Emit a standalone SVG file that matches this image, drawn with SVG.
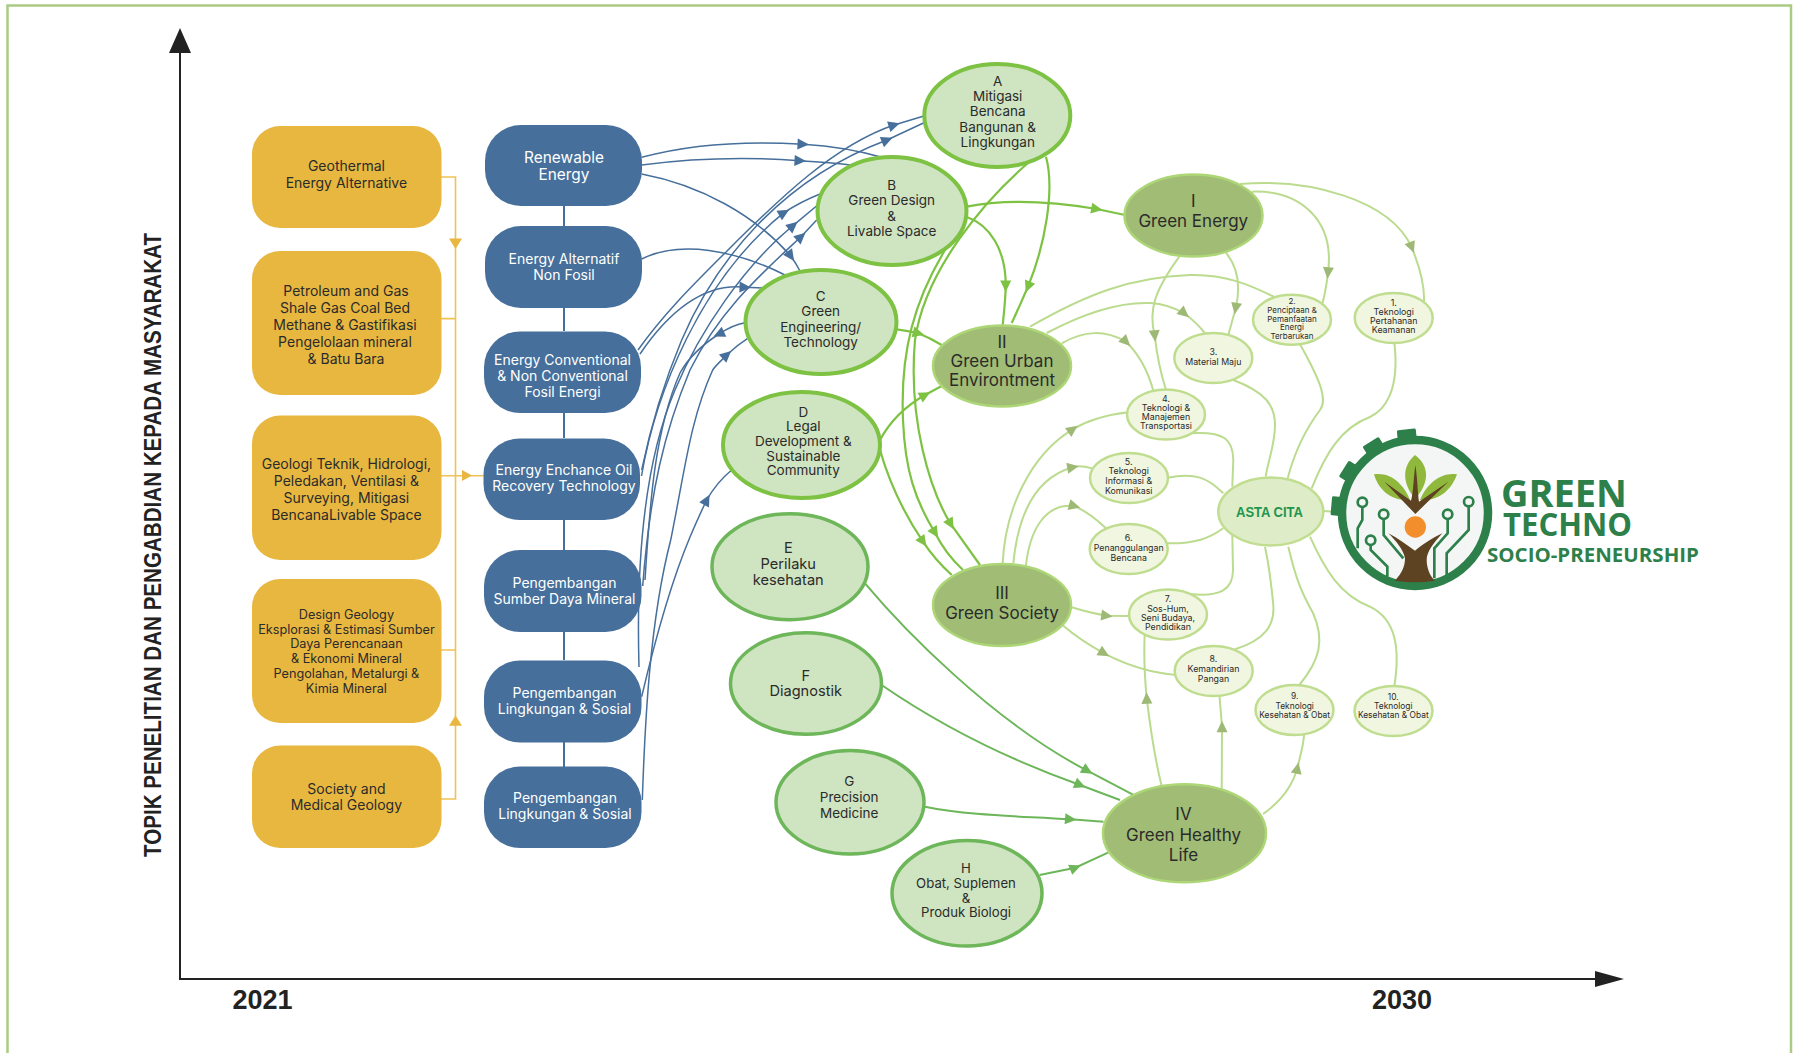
<svg xmlns="http://www.w3.org/2000/svg" width="1795" height="1053" viewBox="0 0 1795 1053">
<style>
text{font-family:Inter,"Liberation Sans",sans-serif;text-anchor:middle;fill:#2b2b2b}
.y{fill:#E8B73F}.bl{fill:#466F9B}
.yt{font-size:14px}.yt4{font-size:12.7px}
.bt{font-size:14px;fill:#fff;transform:translate(0,-0.8px)}
.a{fill:#CFE4C0;stroke:#7DC242;stroke-width:4}
.e{fill:#CFE4C0;stroke:#6DB65A;stroke-width:3.5}
.r{fill:#A0BC75;stroke:#ADD677;stroke-width:2.5}
.s{fill:#F1F6E0;stroke:#BFDD8F;stroke-width:2.5}
.t14{font-size:13.5px}.t15{font-size:14.6px}.t18{font-size:17px}
.t8{font-size:8.8px}.t7{font-size:8px}.t8k{font-size:8.4px}
.cb{fill:none;stroke:#466F9B;stroke-width:1.5}
.cg{fill:none;stroke:#7DC242;stroke-width:2.2}
.cg2{fill:none;stroke:#6DB65A;stroke-width:2}
.cl{fill:none;stroke:#BBDB8F;stroke-width:2}
.cy{fill:none;stroke:#EFC255;stroke-width:1.6}
.ax{fill:none;stroke:#222;stroke-width:2}
.lk{fill:none;stroke:#2D8049;stroke-width:8}
.lr{fill:#F3F6F5;stroke:#2D8049;stroke-width:8}
.lt{fill:#2D8049;font-family:"Open Sans","Liberation Sans",sans-serif;font-weight:700;text-anchor:start}
</style>
<defs>
<polygon id="ab" points="-5.5,-5.5 6,0 -5.5,5.5" fill="#466F9B"/>
<polygon id="ag" points="-5.5,-5.5 6,0 -5.5,5.5" fill="#7DC242"/>
<polygon id="ag2" points="-5.5,-5.5 6,0 -5.5,5.5" fill="#6DB65A"/>
<polygon id="al" points="-5.5,-5.5 6,0 -5.5,5.5" fill="#9DB975"/>
<rect id="tooth" x="-9.5" y="-84" width="19" height="16" rx="1.5" fill="#2D8049"/>
</defs>

<g id="frame"><path d="M7.5 1053V5.5H1791V1053" fill="none" stroke="#ABCB84" stroke-width="2.5"/></g>

<g id="axes">
<path class="ax" d="M180 53V979H1600"/>
<polygon points="180,28 169,53 191,53" fill="#222"/>
<polygon points="1624,979 1595,971 1595,987" fill="#222"/>
<text transform="translate(161 857) rotate(-90)" x="0" y="0" textLength="624" lengthAdjust="spacingAndGlyphs" style="font-family:'Liberation Sans',sans-serif;font-weight:700;font-size:24px;text-anchor:start;fill:#222">TOPIK PENELITIAN DAN PENGABDIAN KEPADA MASYARAKAT</text>
<text x="262.5" y="1009" style="font-family:'Liberation Sans',sans-serif;font-weight:700;font-size:27px;fill:#222">2021</text>
<text x="1402" y="1008.5" style="font-family:'Liberation Sans',sans-serif;font-weight:700;font-size:27px;fill:#222">2030</text>
</g>

<g id="connectors">
<g id="yellow-links">
<path class="cy" d="M441 177H455.5V799H441M441 318.6H455.5M441 650H455.5M441 475.7H483.5"/>
<polygon points="449,238.5 462,238.5 455.5,249" fill="#E8B73F"/>
<polygon points="462,470 462,481 472,475.5" fill="#E8B73F"/>
<polygon points="449,725.8 462,725.8 455.5,715.6" fill="#E8B73F"/>
</g>
<g id="blue-links">
<path class="cb" d="M564 206V226M564 308V331M564 413V438M564 520V550M564 632V660M564 742V767" style="stroke-width:2"/>
<path class="cb" d="M641.7 157.3C695 143 750 141 803 144.3C830 146 860 151 881.7 157.3"/>
<path class="cb" d="M641.7 165C695 158 750 157 800 160.7C820 162 838 163 851.7 165"/>
<path class="cb" d="M641.7 174C700 185 755 215 790.7 256C795 262 798 267 800 271"/>
<path class="cb" d="M641.7 259C680 240 735 250 785 275"/>
<path class="cb" d="M638 350C665 312 695 283 730 248C780 198 835 145 894 125L924 116"/>
<path class="cb" d="M640 354C670 310 705 283 745 287.3L763 288"/>
<path class="cb" d="M641.7 470C652 420 665 380 681.7 340C715 262 780 180 887 140L924 122.7"/>
<path class="cb" d="M641.5 476C655 395 700 280 784 212.7Q800 202 820 194"/>
<path class="cb" d="M639 667C636 560 645 460 675 390C700 330 745 265 793 225.7L817.7 205"/>
<path class="cb" d="M642.7 586C650 490 665 430 690 370C720 310 760 275 801 236.7L816.7 220"/>
<path class="cb" d="M645 580C650 500 655 430 680 373C690 355 705 343 719 334C728 328 737 324 745 322.7"/>
<path class="cb" d="M642.3 800C645 720 650 620 670.7 540C685 470 690 420 712.7 370C716 365 722 360 726.7 355Q737 345 747.7 338.3"/>
<path class="cb" d="M641.7 696.7C655 640 672 580 690 537Q698 518 706.7 500Q717 482 731.7 470"/>
<use href="#ab" transform="translate(803 144.3) rotate(3)"/>
<use href="#ab" transform="translate(800 160.7) rotate(3)"/>
<use href="#ab" transform="translate(790.7 256) rotate(55)"/>
<use href="#ab" transform="translate(745 287.3) rotate(2)"/>
<use href="#ab" transform="translate(706.7 500) rotate(-62)"/>
<use href="#ab" transform="translate(894 125) rotate(-18)"/>
<use href="#ab" transform="translate(887 140) rotate(-22)"/>
<use href="#ab" transform="translate(784 212.7) rotate(-30)"/>
<use href="#ab" transform="translate(793 225.7) rotate(-40)"/>
<use href="#ab" transform="translate(801 236.7) rotate(-42)"/>
<use href="#ab" transform="translate(719 334) rotate(155)"/>
<use href="#ab" transform="translate(726.7 355) rotate(-42)"/>
</g>
<g id="green-links">
<path class="cg" d="M1046 156.7C1055 190 1045 245 1028 286.7C1022 300 1017 312 1011.7 323"/>
<path class="cg" d="M966.7 217C990 225 1006 250 1005.7 286C1005.5 300 1004 312 1002.7 325"/>
<path class="cg" d="M966.7 206.7C1010 198 1055 202 1096.7 209L1125 215"/>
<path class="cg" d="M896.7 329.3Q908 331 918.3 333.3Q930 338 941.7 345"/>
<path class="cg" d="M880 440Q895 412 925 395L941.7 386"/>
<path class="cg" d="M1028 163C985 200 925 270 915 340C908 420 930 490 950.7 524L980 565"/>
<path class="cg" d="M945 250C915 300 900 350 903 420C905 470 915 500 935 532.7Q945 553 963 570"/>
<path class="cg" d="M880 450C890 485 905 515 923 541.7Q935 560 951.7 575"/>
<use href="#ag" transform="translate(1028 286.7) rotate(112)"/>
<use href="#ag" transform="translate(1005.7 286) rotate(90)"/>
<use href="#ag" transform="translate(1096.7 209) rotate(10)"/>
<use href="#ag" transform="translate(918.3 333.3) rotate(15)"/>
<use href="#ag" transform="translate(925 395) rotate(-28)"/>
<use href="#ag" transform="translate(950.7 524) rotate(60)"/>
<use href="#ag" transform="translate(935 532.7) rotate(58)"/>
<use href="#ag" transform="translate(923 541.7) rotate(55)"/>
<path class="cg2" d="M865 583.3C900 625 990 720 1087.3 770.7L1136.7 796.7"/>
<path class="cg2" d="M882.7 685.7C940 725 1010 760 1080 785L1120 800"/>
<path class="cg2" d="M924.8 806.7C970 816 1020 816 1070.5 819.3L1103.5 821.7"/>
<path class="cg2" d="M1039.6 875L1075.3 867.7Q1092 860 1108 852.7"/>
<use href="#ag2" transform="translate(1087.3 770.7) rotate(30)"/>
<use href="#ag2" transform="translate(1080 785) rotate(22)"/>
<use href="#ag2" transform="translate(1070.5 819.3) rotate(5)"/>
<use href="#ag2" transform="translate(1075.3 867.7) rotate(-22)"/>
</g>
<g id="light-links">
<path class="cl" d="M1240 184C1310 178 1390 200 1411.7 247.3Q1425 280 1424 301.7"/>
<path class="cl" d="M1251.7 191.7C1300 190 1335 220 1328 272.7Q1326 290 1322.3 304"/>
<path class="cl" d="M1226 252.7C1240 270 1240 290 1235.7 308.3L1228.3 335"/>
<path class="cl" d="M1179.3 256.7C1155 290 1148 310 1154.7 335.7Q1158 365 1166 390"/>
<path class="cl" d="M1030 326.7C1085 295 1130 277 1190 275C1225 274 1250 285 1275 297.3"/>
<path class="cl" d="M1046.7 333C1090 310 1125 302 1150 303C1165 304 1175 308 1184.3 313.3Q1197 323 1205 333.3"/>
<path class="cl" d="M1061.7 343.3C1085 330 1105 330 1126 341.7Q1145 360 1153.3 390.7"/>
<path class="cl" d="M1002.7 563.3C1005 510 1030 455 1072.7 429.3Q1095 416 1128.3 412.3"/>
<path class="cl" d="M1013.3 563.3C1018 515 1035 478 1072.7 467.3Q1080 465 1091.7 468.3"/>
<path class="cl" d="M1026 565C1030 530 1045 503 1074.3 506Q1090 513 1106 528.3"/>
<path class="cl" d="M1071.7 607.3Q1090 613 1106.7 615.7L1130 616"/>
<path class="cl" d="M1063.3 625.7Q1080 640 1104 653.3Q1140 672 1176.7 675"/>
<path class="cl" d="M1161.7 786C1155 760 1150 725 1146.7 698.3Q1143 660 1145 628"/>
<path class="cl" d="M1221.7 790L1222 726.7L1219 690"/>
<path class="cl" d="M1263 814Q1290 795 1297.3 768.3C1303 745 1303 745 1304.3 733.3"/>
<path class="cl" d="M1394.3 342.3C1400 390 1385 410 1370 417C1340 428 1325 455 1311.7 488.3"/>
<path class="cl" d="M1300 344.3C1320 380 1328 400 1320 410C1305 430 1295 450 1287.7 478.3"/>
<path class="cl" d="M1233.3 380C1265 392 1275 405 1275 425C1275 445 1268 460 1265.7 476.7"/>
<path class="cl" d="M1190 433.3C1225 431 1233 440 1233.3 460L1232.3 486.7"/>
<path class="cl" d="M1167.7 477.7C1195 472 1208 478 1223.3 493.3"/>
<path class="cl" d="M1166.7 543.3C1195 544 1210 538 1223.3 528.3"/>
<path class="cl" d="M1190 594C1220 597 1233 590 1233 570L1232.3 535"/>
<path class="cl" d="M1235 649.3C1265 640 1275 625 1273.3 605Q1270 570 1265 546.7"/>
<path class="cl" d="M1299.3 685C1320 660 1325 640 1313 613C1300 590 1295 575 1288.3 546.7"/>
<path class="cl" d="M1394.3 686.7C1400 650 1397 620 1370 606.7C1340 595 1325 570 1310 536.7"/>
<path class="cl" d="M1323 511L1338 512"/>
<use href="#al" transform="translate(1411.7 247.3) rotate(68)"/>
<use href="#al" transform="translate(1328 272.7) rotate(95)"/>
<use href="#al" transform="translate(1235.7 308.3) rotate(100)"/>
<use href="#al" transform="translate(1154.7 335.7) rotate(85)"/>
<use href="#al" transform="translate(1184.3 313.3) rotate(40)"/>
<use href="#al" transform="translate(1126 341.7) rotate(45)"/>
<use href="#al" transform="translate(1072.7 429.3) rotate(-35)"/>
<use href="#al" transform="translate(1072.7 467.3) rotate(-10)"/>
<use href="#al" transform="translate(1074.3 506) rotate(15)"/>
<use href="#al" transform="translate(1106.7 615.7) rotate(8)"/>
<use href="#al" transform="translate(1104 653.3) rotate(30)"/>
<use href="#al" transform="translate(1146.7 698.3) rotate(-92)"/>
<use href="#al" transform="translate(1222 726.7) rotate(-90)"/>
<use href="#al" transform="translate(1297.3 768.3) rotate(-78)"/>
</g>
</g>

<g id="topic-1"><rect class="y" x="252" y="126" width="189.5" height="102" rx="28"/><text class="yt"><tspan x="346.4" y="171">Geothermal</tspan><tspan x="346.4" y="187.5">Energy Alternative</tspan></text></g>
<g id="topic-2"><rect class="y" x="252" y="251" width="189.5" height="144" rx="28"/><text class="yt"><tspan x="346" y="296">Petroleum and Gas</tspan><tspan x="345" y="313">Shale Gas Coal Bed</tspan><tspan x="345" y="330">Methane &amp; Gastifikasi</tspan><tspan x="345" y="347">Pengelolaan mineral</tspan><tspan x="346" y="364">&amp; Batu Bara</tspan></text></g>
<g id="topic-3"><rect class="y" x="252" y="415.5" width="189.5" height="144.5" rx="28"/><text class="yt"><tspan x="346.4" y="469">Geologi Teknik, Hidrologi,</tspan><tspan x="346.4" y="486">Peledakan, Ventilasi &amp;</tspan><tspan x="346.4" y="503">Surveying, Mitigasi</tspan><tspan x="346.4" y="519.5">BencanaLivable Space</tspan></text></g>
<g id="topic-4"><rect class="y" x="252" y="579" width="189.5" height="144" rx="28"/><text class="yt4"><tspan x="346.4" y="619">Design Geology</tspan><tspan x="346.4" y="633.7">Eksplorasi &amp; Estimasi Sumber</tspan><tspan x="346.4" y="648.3">Daya Perencanaan</tspan><tspan x="346.4" y="663">&amp; Ekonomi Mineral</tspan><tspan x="346.4" y="678">Pengolahan, Metalurgi &amp;</tspan><tspan x="346.4" y="692.5">Kimia Mineral</tspan></text></g>
<g id="topic-5"><rect class="y" x="252" y="745.5" width="189.5" height="102.5" rx="28"/><text class="yt"><tspan x="346.4" y="793.5">Society and</tspan><tspan x="346.4" y="809.7">Medical Geology</tspan></text></g>

<g id="field-1"><rect class="bl" x="485" y="125" width="157" height="81" rx="36"/><text class="bt" style="font-size:15.4px"><tspan x="564" y="163.5">Renewable</tspan><tspan x="564" y="181">Energy</tspan></text></g>
<g id="field-2"><rect class="bl" x="485" y="226" width="157" height="82" rx="36"/><text class="bt"><tspan x="564" y="265">Energy Alternatif</tspan><tspan x="564" y="281">Non Fosil</tspan></text></g>
<g id="field-3"><rect class="bl" x="484" y="331.4" width="157" height="81.6" rx="36"/><text class="bt"><tspan x="562.5" y="365.5">Energy Conventional</tspan><tspan x="562.5" y="381.7">&amp; Non Conventional</tspan><tspan x="562.5" y="397.9">Fosil Energi</tspan></text></g>
<g id="field-4"><rect class="bl" x="483.5" y="438.5" width="156.5" height="81.5" rx="36"/><text class="bt"><tspan x="564" y="475.6">Energy Enchance Oil</tspan><tspan x="564" y="491.5">Recovery Technology</tspan></text></g>
<g id="field-5"><rect class="bl" x="484" y="550" width="157.5" height="82" rx="36"/><text class="bt"><tspan x="564.5" y="588.6">Pengembangan</tspan><tspan x="564.5" y="605">Sumber Daya Mineral</tspan></text></g>
<g id="field-6"><rect class="bl" x="484" y="660.5" width="157.5" height="82" rx="36"/><text class="bt"><tspan x="564.5" y="698.5">Pengembangan</tspan><tspan x="564.5" y="714.5">Lingkungan &amp; Sosial</tspan></text></g>
<g id="field-7"><rect class="bl" x="484" y="766.6" width="157.5" height="81.4" rx="36"/><text class="bt"><tspan x="565" y="803.6">Pengembangan</tspan><tspan x="565" y="819.6">Lingkungan &amp; Sosial</tspan></text></g>

<g id="node-a"><ellipse class="a" cx="997.3" cy="115.5" rx="73" ry="51.5"/><text class="t14"><tspan x="997.7" y="85.5">A</tspan><tspan x="997.7" y="100.5">Mitigasi</tspan><tspan x="997.7" y="116">Bencana</tspan><tspan x="997.7" y="131.5">Bangunan &amp;</tspan><tspan x="997.7" y="147">Lingkungan</tspan></text></g>
<g id="node-b"><ellipse class="a" cx="892" cy="211" rx="74.5" ry="54"/><text class="t14"><tspan x="891.7" y="189.5">B</tspan><tspan x="891.7" y="205">Green Design</tspan><tspan x="891.7" y="220.5">&amp;</tspan><tspan x="891.7" y="236">Livable Space</tspan></text></g>
<g id="node-c"><ellipse class="a" cx="821" cy="322" rx="75.5" ry="52"/><text class="t14"><tspan x="820.7" y="300.7">C</tspan><tspan x="820.7" y="316">Green</tspan><tspan x="820.7" y="331.7">Engineering/</tspan><tspan x="820.7" y="347">Technology</tspan></text></g>
<g id="node-d"><ellipse class="a" cx="801.5" cy="445" rx="78.5" ry="53"/><text class="t14"><tspan x="803.3" y="416.7">D</tspan><tspan x="803.3" y="431.3">Legal</tspan><tspan x="803.3" y="446">Development &amp;</tspan><tspan x="803.3" y="460.7">Sustainable</tspan><tspan x="803.3" y="475.3">Community</tspan></text></g>
<g id="node-e"><ellipse class="e" cx="790" cy="566.7" rx="78" ry="53"/><text class="t15"><tspan x="788.3" y="552.5">E</tspan><tspan x="788.3" y="568.5">Perilaku</tspan><tspan x="788.3" y="584.8">kesehatan</tspan></text></g>
<g id="node-f"><ellipse class="e" cx="806" cy="683.5" rx="75.5" ry="50.7"/><text class="t15"><tspan x="805.7" y="680.5">F</tspan><tspan x="805.7" y="696">Diagnostik</tspan></text></g>
<g id="node-g"><ellipse class="e" cx="850" cy="802.3" rx="74" ry="51.7"/><text class="t14"><tspan x="849.2" y="786">G</tspan><tspan x="849.2" y="802.3">Precision</tspan><tspan x="849.2" y="818">Medicine</tspan></text></g>
<g id="node-h"><ellipse class="e" cx="967" cy="893.3" rx="75" ry="52.7"/><text class="t14" style="font-size:13.2px"><tspan x="966" y="873">H</tspan><tspan x="966" y="888">Obat, Suplemen</tspan><tspan x="966" y="902.5">&amp;</tspan><tspan x="966" y="917.2">Produk Biologi</tspan></text></g>

<g id="node-i"><ellipse class="r" cx="1193.5" cy="215.5" rx="69" ry="41"/><text class="t18"><tspan x="1193.3" y="207">I</tspan><tspan x="1193.3" y="226.5">Green Energy</tspan></text></g>
<g id="node-ii"><ellipse class="r" cx="1002" cy="366" rx="69" ry="40.5"/><text class="t18"><tspan x="1002" y="347.5">II</tspan><tspan x="1002" y="366.5">Green Urban</tspan><tspan x="1002" y="385.5">Environtment</tspan></text></g>
<g id="node-iii"><ellipse class="r" cx="1002" cy="605" rx="69" ry="41"/><text class="t18"><tspan x="1002" y="599">III</tspan><tspan x="1002" y="618.5">Green Society</tspan></text></g>
<g id="node-iv"><ellipse class="r" cx="1184.5" cy="833.3" rx="81.5" ry="49"/><text class="t18"><tspan x="1183.5" y="819.5">IV</tspan><tspan x="1183.5" y="840.5">Green Healthy</tspan><tspan x="1183.5" y="861">Life</tspan></text></g>

<g id="goal-1"><ellipse class="s" cx="1393.7" cy="318" rx="39" ry="25"/><text class="t8"><tspan x="1393.7" y="306">1.</tspan><tspan x="1393.7" y="315">Teknologi</tspan><tspan x="1393.7" y="324">Pertahanan</tspan><tspan x="1393.7" y="333">Keamanan</tspan></text></g>
<g id="goal-2"><ellipse class="s" cx="1292" cy="319.7" rx="39" ry="25"/><text class="t7"><tspan x="1292" y="303.7">2.</tspan><tspan x="1292" y="313">Penciptaan &amp;</tspan><tspan x="1292" y="322">Pemanfaatan</tspan><tspan x="1292" y="330.3">Energi</tspan><tspan x="1292" y="338.7">Terbarukan</tspan></text></g>
<g id="goal-3"><ellipse class="s" cx="1213.3" cy="358" rx="39" ry="25"/><text class="t8"><tspan x="1213.3" y="355">3.</tspan><tspan x="1213.3" y="365">Material Maju</tspan></text></g>
<g id="goal-4"><ellipse class="s" cx="1166" cy="414.5" rx="39" ry="25"/><text class="t8"><tspan x="1166" y="401.7">4.</tspan><tspan x="1166" y="411">Teknologi &amp;</tspan><tspan x="1166" y="420">Manajemen</tspan><tspan x="1166" y="429.3">Transportasi</tspan></text></g>
<g id="goal-5"><ellipse class="s" cx="1129" cy="478" rx="39" ry="25"/><text class="t8"><tspan x="1128.7" y="464.7">5.</tspan><tspan x="1128.7" y="474.3">Teknologi</tspan><tspan x="1128.7" y="484.3">Informasi &amp;</tspan><tspan x="1128.7" y="494">Komunikasi</tspan></text></g>
<g id="goal-6"><ellipse class="s" cx="1128.7" cy="549" rx="39" ry="25"/><text class="t8"><tspan x="1128.7" y="541.3">6.</tspan><tspan x="1128.7" y="551.3">Penanggulangan</tspan><tspan x="1128.7" y="560.7">Bencana</tspan></text></g>
<g id="goal-7"><ellipse class="s" cx="1168" cy="614.5" rx="39" ry="25"/><text class="t8"><tspan x="1168" y="602.3">7.</tspan><tspan x="1168" y="612.3">Sos-Hum,</tspan><tspan x="1168" y="621.3">Seni Budaya,</tspan><tspan x="1168" y="630.3">Pendidikan</tspan></text></g>
<g id="goal-8"><ellipse class="s" cx="1213.7" cy="671" rx="39" ry="25"/><text class="t8"><tspan x="1213.5" y="661.7">8.</tspan><tspan x="1213.5" y="672">Kemandirian</tspan><tspan x="1213.5" y="682.3">Pangan</tspan></text></g>
<g id="goal-9"><ellipse class="s" cx="1294.5" cy="710" rx="39" ry="25"/><text class="t8k"><tspan x="1294.7" y="699">9.</tspan><tspan x="1294.7" y="708.7">Teknologi</tspan><tspan x="1294.7" y="718">Kesehatan &amp; Obat</tspan></text></g>
<g id="goal-10"><ellipse class="s" cx="1393.5" cy="711" rx="39" ry="25"/><text class="t8k"><tspan x="1393.3" y="699.7">10.</tspan><tspan x="1393.3" y="709">Teknologi</tspan><tspan x="1393.3" y="718.3">Kesehatan &amp; Obat</tspan></text></g>

<g id="asta-cita"><ellipse cx="1270.8" cy="511.5" rx="52.5" ry="34" fill="#DFECC8" stroke="#C0DD90" stroke-width="2.5"/><text x="1269.5" y="517.3" textLength="67" lengthAdjust="spacingAndGlyphs" style="font-family:'Liberation Sans',sans-serif;font-weight:700;font-size:14px;fill:#1E9650">ASTA CITA</text></g>

<g id="logo">
<use href="#tooth" transform="translate(1415 513) rotate(-6)"/>
<use href="#tooth" transform="translate(1415 513) rotate(-32)"/>
<use href="#tooth" transform="translate(1415 513) rotate(-58)"/>
<use href="#tooth" transform="translate(1415 513) rotate(-85)"/>
<circle cx="1415" cy="513" r="73" fill="#F3F6F5" stroke="#2D8049" stroke-width="8.5"/>
<g transform="translate(1335 430) scale(.33333)">
<path d="M240 75C205 105 200 150 232 195C240 205 245 205 250 195C285 150 280 105 240 75Z" fill="#8FB83D"/>
<path d="M117 133C165 125 205 160 225 210C170 215 130 180 117 133Z" fill="#8FB83D"/>
<path d="M366 133C320 125 275 160 255 210C310 215 350 180 366 133Z" fill="#8FB83D"/>
<path d="M241 105C248 150 248 190 252 215L340 155L241 252L148 155L228 212C235 190 235 150 241 105Z" fill="#5E4323"/>
<circle cx="241" cy="291" r="32" fill="#F28E2B"/>
<path class="lk" d="M82 231V270L68 295V355M146 267V315L205 385M107 345V360L157 410V440M338 267V310L298 355V445M401 229V300L335 370V435"/>
<circle class="lr" cx="82" cy="217" r="14"/><circle class="lr" cx="146" cy="253" r="14"/><circle class="lr" cx="107" cy="331" r="14"/><circle class="lr" cx="338" cy="253" r="14"/><circle class="lr" cx="401" cy="215" r="14"/>
<path d="M160 310C190 325 215 345 240 362C260 345 290 325 322 310C295 340 275 365 275 390C275 420 290 445 300 452Q240 462 180 452C200 430 210 410 210 385C205 360 185 335 160 310Z" fill="#5E4323"/>
</g>
<text class="lt" x="1501" y="507" textLength="126" lengthAdjust="spacingAndGlyphs" style="font-size:38px">GREEN</text>
<text class="lt" x="1503" y="536" textLength="129" lengthAdjust="spacingAndGlyphs" style="font-size:32px">TECHNO</text>
<text class="lt" x="1487" y="561.7" textLength="212" lengthAdjust="spacingAndGlyphs" style="font-size:19.5px">SOCIO-PRENEURSHIP</text>
</g>
</svg>
